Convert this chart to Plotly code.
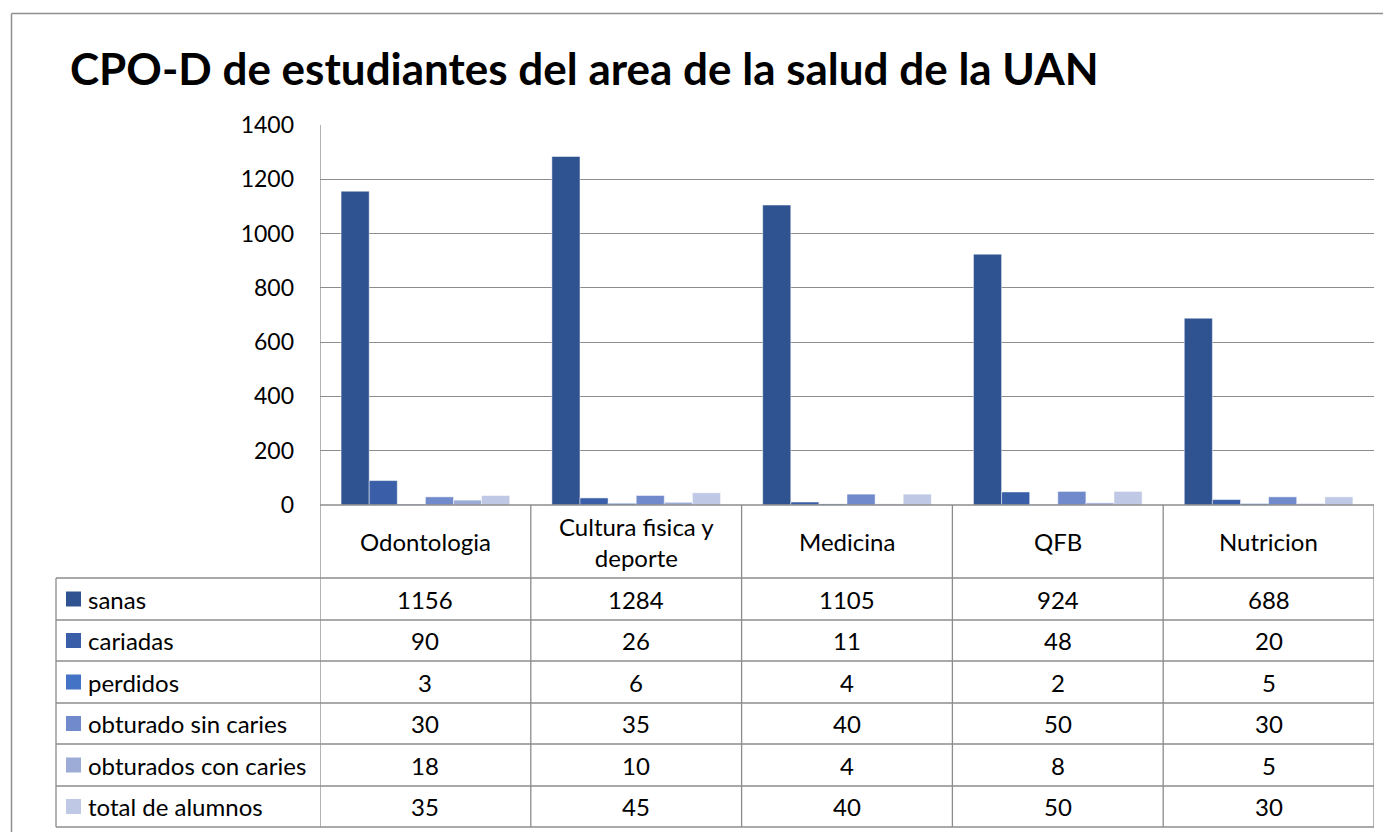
import plotly.graph_objects as go

categories = ["Odontologia", "Cultura fisica y<br>deporte", "Medicina", "QFB", "Nutricion"]
series_names = ["sanas", "cariadas", "perdidos", "obturado sin caries", "obturados con caries", "total de alumnos"]
sanas = [1156, 1284, 1105, 924, 688]
cariadas = [90, 26, 11, 48, 20]
perdidos = [3, 6, 4, 2, 5]
obturado_sin_caries = [30, 35, 40, 50, 30]
obturados_con_caries = [18, 10, 4, 8, 5]
total_de_alumnos = [35, 45, 40, 50, 30]
y_ticks = [0, 200, 400, 600, 800, 1000, 1200, 1400]

series_values = [sanas, cariadas, perdidos, obturado_sin_caries, obturados_con_caries, total_de_alumnos]
colors = ["#2F5290", "#3A5FA8", "#4472C4", "#718ACB", "#9DACD7", "#BFC9E5"]

OFF = 8  # page body margin
W, H = 1391 - OFF, 832 - OFF
# page-pixel geometry of the plot area
PL, PR, PT, PB = 320, 1374, 125, 505
L, R, T, B = PL - OFF, PR - OFF, PT - OFF, PB - OFF
FONT = "Lato"
GRID = "#8C8C8C"
TXT = 24


def px(x):
    return (x - PL) / (PR - PL)


def py(y):
    return (PB - y) / (PB - PT)


fig = go.Figure()
x_idx = list(range(len(categories)))
for name, vals, c in zip(series_names, series_values, colors):
    fig.add_trace(go.Bar(x=x_idx, y=vals, name=name,
                         marker=dict(color=c, line=dict(color="rgba(255,255,255,0.6)", width=0.8)),
                         showlegend=False))

shapes = []
annotations = []

# outer chart border (cropped on right and bottom)
shapes.append(dict(type="line", xref="paper", yref="paper", x0=px(11.5), x1=px(1400), y0=py(13.5), y1=py(13.5),
                   line=dict(color="#8F8F8F", width=1.5)))
shapes.append(dict(type="line", xref="paper", yref="paper", x0=px(11.5), x1=px(11.5), y0=py(13.5), y1=py(840),
                   line=dict(color="#8F8F8F", width=1.5)))

# table geometry
row_tops = [578, 620, 661, 703, 744, 786]
row_bottom = 827
table_left = 56

n = len(categories)
for i in range(n + 1):
    shapes.append(dict(type="line", xref="x", yref="paper", x0=i - 0.5, x1=i - 0.5,
                       y0=py(PT if i == 0 else PB), y1=py(row_bottom),
                       line=dict(color=GRID, width=1.3)))
shapes.append(dict(type="line", xref="paper", yref="paper", x0=px(table_left), x1=px(table_left),
                   y0=py(row_tops[0]), y1=py(row_bottom), line=dict(color=GRID, width=1.3)))
shapes.append(dict(type="line", xref="paper", yref="paper", x0=0, x1=1, y0=0, y1=0,
                   line=dict(color=GRID, width=1.3)))
for y in row_tops + [row_bottom]:
    shapes.append(dict(type="line", xref="paper", yref="paper", x0=px(table_left), x1=1, y0=py(y), y1=py(y),
                       line=dict(color=GRID, width=1.3)))

for i, c in enumerate(categories):
    annotations.append(dict(x=i, xref="x", y=py((PB + row_tops[0]) / 2), yref="paper", text=c, showarrow=False,
                            font=dict(family=FONT, size=TXT, color="black"), xanchor="center", yanchor="middle"))

row_bounds = row_tops + [row_bottom]
for r, (name, vals, c) in enumerate(zip(series_names, series_values, colors)):
    ymid = (row_bounds[r] + row_bounds[r + 1]) / 2
    shapes.append(dict(type="rect", xref="paper", yref="paper", x0=px(66), x1=px(81),
                       y0=py(ymid - 7.5), y1=py(ymid + 7.5), fillcolor=c, line=dict(width=0)))
    annotations.append(dict(x=px(86), xref="paper", y=py(ymid), yref="paper", text=name, showarrow=False,
                            font=dict(family=FONT, size=TXT, color="black"), xanchor="left", yanchor="middle"))
    for i, v in enumerate(vals):
        annotations.append(dict(x=i, xref="x", y=py(ymid), yref="paper", text=str(v), showarrow=False,
                                font=dict(family=FONT, size=TXT, color="black"), xanchor="center", yanchor="middle"))

annotations.append(dict(x=px(68), xref="paper", y=py(68), yref="paper",
                        text="<b>CPO-D de estudiantes del area de la salud de la UAN</b>",
                        showarrow=False, font=dict(family=FONT, size=44, color="black"),
                        xanchor="left", yanchor="middle"))

fig.update_layout(
    width=W, height=H,
    margin=dict(l=L, r=W - R, t=T, b=H - B),
    paper_bgcolor="white", plot_bgcolor="white",
    barmode="group", bargap=0.2, bargroupgap=0,
    shapes=shapes, annotations=annotations,
    font=dict(family=FONT, color="black"),
    xaxis=dict(range=[-0.5, n - 0.5], showticklabels=False, showgrid=False, zeroline=False, fixedrange=True),
    yaxis=dict(range=[0, 1400], tickvals=y_ticks, showgrid=True, gridcolor=GRID, gridwidth=1.3, zeroline=False,
               showline=False, tickfont=dict(family=FONT, size=23, color="black"), ticklabelstandoff=25),
)

fig.write_html("out.html")
